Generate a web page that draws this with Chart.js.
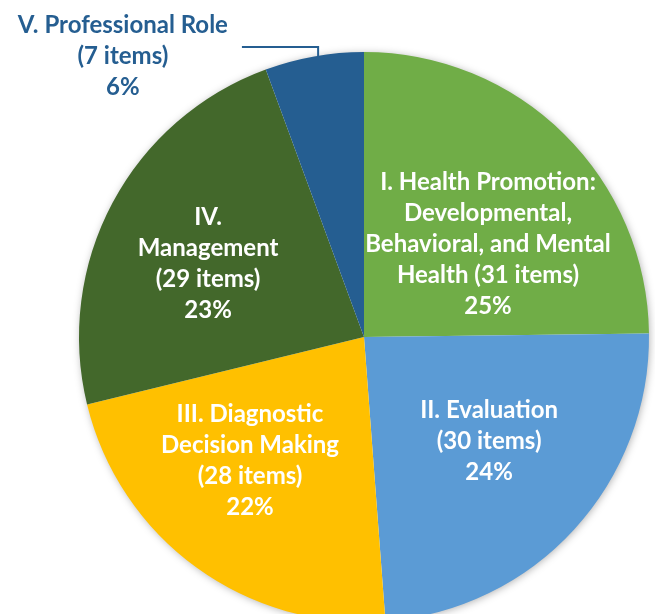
<!DOCTYPE html>
<html>
<head>
<meta charset="utf-8">
<script src="https://cdn.jsdelivr.net/npm/chart.js@4.4.1/dist/chart.umd.min.js"></script>
<style>
  html, body { margin: 0; padding: 0; background: #fff; overflow: hidden; }
  #wrap { position: relative; width: 655px; height: 614px; overflow: hidden; }
  canvas { position: absolute; left: 0; top: 0; }
</style>
</head>
<body>
<div id="wrap"><canvas id="pieChart" width="655" height="680"></canvas></div>
<script>
// Chart data
const categories = [
    'I. Health Promotion:\nDevelopmental,\nBehavioral, and Mental\nHealth',
    'II. Evaluation',
    'III. Diagnostic\nDecision Making',
    'IV.\nManagement',
    'V. Professional Role'
];
const itemCounts = [31, 30, 28, 29, 7];
const countOnSameLine = [true, false, false, false, false];

const sliceColors = ['#70AD47', '#5B9BD5', '#FFC000', '#43682B', '#255E91'];
const labelColors = ['#ffffff', '#ffffff', '#ffffff', '#ffffff', '#255E91'];
// label centre, as fraction of radius from pie centre
const labelAnchors = [[0.435, -0.325], [0.439, 0.367], [-0.40, 0.433], [-0.547, -0.258], [-0.846, -0.986]];

const total = itemCounts.reduce((a, b) => a + b, 0);

function labelLines(i) {
    const pct = Math.round(itemCounts[i] / total * 100) + '%';
    const sep = countOnSameLine[i] ? ' ' : '\n';
    return (categories[i] + sep + '(' + itemCounts[i] + ' items)\n' + pct).split('\n');
}

// soft shadow behind the pie
const shadowPlugin = {
    id: 'pieShadow',
    beforeDatasetsDraw(chart) {
        const arc = chart.getDatasetMeta(0).data[0];
        if (!arc) return;
        const ctx = chart.ctx;
        ctx.save();
        ctx.shadowColor = 'rgba(0,0,0,0.35)';
        ctx.shadowBlur = 8;
        ctx.shadowOffsetX = 1;
        ctx.shadowOffsetY = 1;
        ctx.fillStyle = '#ffffff';
        ctx.beginPath();
        ctx.arc(arc.x, arc.y, arc.outerRadius - 1, 0, Math.PI * 2);
        ctx.fill();
        ctx.restore();
    }
};

// slice labels + leader line for the small slice
const labelPlugin = {
    id: 'sliceLabels',
    afterDatasetsDraw(chart) {
        const ctx = chart.ctx;
        const meta = chart.getDatasetMeta(0);
        const lineH = 31;
        ctx.save();
        ctx.font = 'bold 24px Lato';
        ctx.textAlign = 'center';
        ctx.textBaseline = 'middle';
        meta.data.forEach((arc, i) => {
            const r = arc.outerRadius;
            const cx = arc.x + labelAnchors[i][0] * r;
            const cy = arc.y + labelAnchors[i][1] * r;
            const lines = labelLines(i);
            const y0 = cy - (lines.length - 1) * lineH / 2;
            ctx.fillStyle = labelColors[i];
            lines.forEach((t, k) => ctx.fillText(t, cx, y0 + k * lineH));

            if (i === 4) {
                const mid = (arc.startAngle + arc.endAngle) / 2;
                const ex = arc.x + Math.cos(mid) * r;
                const ey = arc.y + Math.sin(mid) * r;
                const w = ctx.measureText(lines[0]).width;
                ctx.strokeStyle = '#255E91';
                ctx.lineWidth = 2;
                ctx.beginPath();
                ctx.moveTo(cx + w / 2 + 14, y0 + 22);
                ctx.lineTo(ex + 4, y0 + 22);
                ctx.lineTo(ex + 4, ey);
                ctx.stroke();
            }
        });
        ctx.restore();
    }
};

const ctx = document.getElementById('pieChart').getContext('2d');
new Chart(ctx, {
    type: 'pie',
    data: {
        labels: categories,
        datasets: [{
            data: itemCounts,
            backgroundColor: sliceColors,
            borderWidth: 0
        }]
    },
    options: {
        responsive: false,
        animation: false,
        layout: {
            padding: { left: 79, right: 6, top: 52, bottom: 58 }
        },
        plugins: {
            legend: { display: false },
            tooltip: { enabled: false }
        }
    },
    plugins: [shadowPlugin, labelPlugin]
});
</script>
</body>
</html>
